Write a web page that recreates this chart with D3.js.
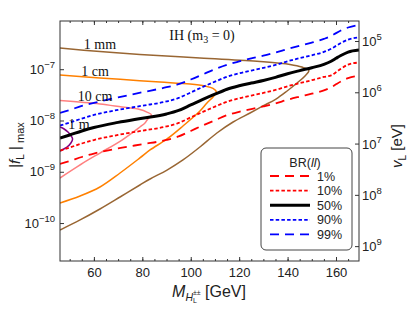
<!DOCTYPE html>
<html>
<head>
<meta charset="utf-8">
<script src="https://d3js.org/d3.v7.min.js"></script>
<style>
body{margin:0;background:#fff;}
text{font-family:"Liberation Sans",Arial,sans-serif;fill:#222;}
.serif{font-family:"Liberation Serif","Times New Roman",serif;}
</style>
</head>
<body>
<script>
// BR(ll) contours in the (M, |f_L|max) plane, IH
var brMass = [46,50,55,60,70,80,90,95,100,105,110,115,120,125,130,135,140,145,150,155,158,160,162,165,169.5];
var br1  = [1.42e-9,1.62e-9,1.94e-9,2.27e-9,2.85e-9,3.45e-9,4.17e-9,4.88e-9,6.25e-9,8.02e-9,1.01e-8,1.27e-8,1.48e-8,1.67e-8,1.88e-8,2.15e-8,2.54e-8,2.92e-8,3.33e-8,3.86e-8,4.45e-8,5.07e-8,5.75e-8,6.72e-8,7.37e-8];
var br10 = [2.59e-9,2.97e-9,3.56e-9,4.16e-9,5.23e-9,6.33e-9,7.64e-9,8.95e-9,1.15e-8,1.47e-8,1.86e-8,2.32e-8,2.71e-8,3.07e-8,3.44e-8,3.94e-8,4.66e-8,5.35e-8,6.10e-8,7.07e-8,7.6e-8,8.7e-8,1.02e-7,1.23e-7,1.35e-7];
var br50 = [4.55e-9,5.21e-9,6.24e-9,7.30e-9,9.18e-9,1.11e-8,1.34e-8,1.57e-8,2.01e-8,2.58e-8,3.26e-8,4.07e-8,4.75e-8,5.38e-8,6.03e-8,6.92e-8,8.17e-8,9.39e-8,1.07e-7,1.24e-7,1.43e-7,1.63e-7,1.85e-7,2.16e-7,2.37e-7];
var br90 = [7.96e-9,9.12e-9,1.09e-8,1.28e-8,1.61e-8,1.94e-8,2.35e-8,2.75e-8,3.52e-8,4.52e-8,5.71e-8,7.12e-8,8.31e-8,9.42e-8,1.06e-7,1.21e-7,1.43e-7,1.64e-7,1.87e-7,2.17e-7,2.50e-7,2.85e-7,3.24e-7,3.78e-7,4.15e-7];
var br99 = [1.40e-8,1.60e-8,1.92e-8,2.20e-8,2.82e-8,3.55e-8,4.45e-8,5.10e-8,6.30e-8,7.92e-8,1.00e-7,1.22e-7,1.42e-7,1.63e-7,1.84e-7,2.12e-7,2.48e-7,2.88e-7,3.30e-7,3.90e-7,4.45e-7,5.05e-7,5.68e-7,6.50e-7,7.28e-7];
var brLabels = ['1%','10%','50%','90%','99%'];

// decay length contours (upper branch -> tip -> lower branch)
var mm1Mass = [46,62.5,79.0,103.8,128.6,141.0,145.9,148.8,147.2,143.9,139.8,135.2,129.8,124.5,117.5,110.8,103.8,96.8,90.2,83.2,79.0,70.8,62.5,54.3,46];
var mm1F = [2.59e-7,2.21e-7,1.94e-7,1.65e-7,1.41e-7,1.24e-7,1.10e-7,9.44e-8,7.37e-8,5.38e-8,3.76e-8,2.62e-8,1.92e-8,1.40e-8,9.34e-9,5.70e-9,3.04e-9,1.70e-9,1.08e-9,7.23e-10,5.52e-10,3.22e-10,1.88e-10,1.15e-10,7.32e-11];
var cm1Mass = [46,62.5,74.9,87.3,99.7,105.9,109.2,110.6,109.2,106.7,103.8,96.8,90.2,83.2,79.0,70.8,62.5,54.3,46];
var cm1F = [7.71e-8,6.74e-8,6.16e-8,5.63e-8,5.15e-8,4.70e-8,4.21e-8,3.59e-8,2.87e-8,2.19e-8,1.53e-8,7.81e-9,4.36e-9,2.66e-9,1.86e-9,9.46e-10,5.05e-10,3.37e-10,2.46e-10];
var cm10Mass = [46,62.5,71.6,79.0,81.9,83.8,82.3,81.1,79.0,71.6,62.5,57.6,46];
var cm10F = [2.45e-8,2.10e-8,1.83e-8,1.64e-8,1.46e-8,1.28e-8,1.07e-8,8.93e-9,7.46e-9,4.16e-9,2.32e-9,1.70e-9,7.56e-10];
var m1Mass = [46,47.7,49.3,50.5,51.2,50.5,48.9,47.2,46];
var m1F = [7.46e-9,6.82e-9,5.96e-9,5.09e-9,4.36e-9,3.64e-9,3.04e-9,2.72e-9,2.54e-9];
var lenLabels = ['1 mm','1 cm','10 cm','1 m'];

var xTicks = [60,80,100,120,140,160];
var xMinor = d3.range(50,170,5);
var fTicks = [1e-10,1e-9,1e-8,1e-7];
var vTicks = [1e5,1e6,1e7,1e8,1e9];

var W = 407, H = 309;
var L = 60, R = 359, T = 21, B = 261;

var svg = d3.select('body').append('svg').attr('width',W).attr('height',H);

var x = d3.scaleLinear().domain([46,169.5]).range([L,R]);
var y = d3.scaleLog().domain([Math.pow(10,-10.74),Math.pow(10,-6.06)]).range([B,T]);
var yv = d3.scaleLog().domain([Math.pow(10,4.61),Math.pow(10,9.29)]).range([T,B]);

svg.append('clipPath').attr('id','clip')
    .append('rect').attr('x',L).attr('y',T).attr('width',R-L).attr('height',B-T);

var plot = svg.append('g').attr('clip-path','url(#clip)');

function pts(xs, ys){ return xs.map(function(d,i){ return [d, ys[i]]; }); }

var contour = d3.line().x(function(d){ return x(d[0]); }).y(function(d){ return y(d[1]); })
    .curve(d3.curveCatmullRom.alpha(0.5));
var brLine = d3.line().x(function(d){ return x(d[0]); }).y(function(d){ return y(d[1]); })
    .curve(d3.curveMonotoneX);

var contours = [
    {d: pts(mm1Mass, mm1F), c: '#996633'},
    {d: pts(cm1Mass, cm1F), c: '#ff8000'},
    {d: pts(cm10Mass, cm10F), c: '#ff8080'},
    {d: pts(m1Mass, m1F), c: '#800080'}
];
contours.forEach(function(k){
    plot.append('path').attr('d', contour(k.d))
        .attr('fill','none').attr('stroke',k.c).attr('stroke-width',1.5);
});

var brStyle = [
    {c:'#ff0000', dash:'9,6', w:1.8},
    {c:'#ff0000', dash:'3.5,2.2', w:1.8},
    {c:'#000000', dash:null, w:3},
    {c:'#0000ff', dash:'3.5,2.2', w:1.8},
    {c:'#0000ff', dash:'9,6', w:1.8}
];
[br1, br10, br50, br90, br99].forEach(function(s,i){
    plot.append('path').attr('d', brLine(pts(brMass, s)))
        .attr('fill','none').attr('stroke',brStyle[i].c)
        .attr('stroke-width',brStyle[i].w)
        .attr('stroke-dasharray',brStyle[i].dash);
});

// length labels
var lenPos = [[100,49],[95,76],[95,101],[79,129]];
svg.selectAll('.len').data(lenLabels).enter().append('text')
    .attr('class','serif').attr('x',function(d,i){ return lenPos[i][0]; })
    .attr('y',function(d,i){ return lenPos[i][1]; })
    .attr('text-anchor','middle').attr('font-size',14).style('fill','#111')
    .text(function(d){ return d; });

// title
var tt = svg.append('text').attr('class','serif').attr('x',202).attr('y',40)
    .attr('text-anchor','middle').attr('font-size',14).style('fill','#111');
tt.append('tspan').text('IH (m');
tt.append('tspan').attr('font-size',10).attr('dy',3).text('3');
tt.append('tspan').attr('dy',-3).text(' = 0)');

// axes
function strip(g){ g.select('.domain').remove(); g.selectAll('line').attr('stroke','#333'); }
svg.append('g').attr('transform','translate(0,'+B+')')
    .call(d3.axisBottom(x).tickValues(xTicks).tickSize(-4).tickPadding(7))
    .call(strip).selectAll('text').attr('font-size',13).style('font-family','Liberation Sans').style('fill','#222');
svg.append('g').attr('transform','translate(0,'+B+')')
    .call(d3.axisBottom(x).tickValues(xMinor).tickSize(-2).tickFormat('')).call(strip);
svg.append('g').attr('transform','translate(0,'+T+')')
    .call(d3.axisTop(x).tickValues(xTicks).tickSize(-4).tickFormat('')).call(strip);
svg.append('g').attr('transform','translate(0,'+T+')')
    .call(d3.axisTop(x).tickValues(xMinor).tickSize(-2).tickFormat('')).call(strip);
svg.append('g').attr('transform','translate('+L+',0)')
    .call(d3.axisLeft(y).tickValues(fTicks).tickSize(-4).tickFormat('')).call(strip);
svg.append('g').attr('transform','translate('+R+',0)')
    .call(d3.axisRight(yv).tickValues(vTicks).tickSize(-4).tickFormat('')).call(strip);

svg.append('rect').attr('x',L).attr('y',T).attr('width',R-L).attr('height',B-T)
    .attr('fill','none').attr('stroke','#333').attr('stroke-width',1);

var fl = svg.selectAll('.fl').data(fTicks).enter().append('text')
    .attr('x',L-5).attr('y',function(d){ return y(d)+4.5; })
    .attr('text-anchor','end').attr('font-size',13);
fl.append('tspan').text('10');
fl.append('tspan').attr('font-size',9.5).attr('dy',-6)
    .text(function(d){ return '\u2212' + Math.round(-Math.log10(d)); });

var vl = svg.selectAll('.vl').data(vTicks).enter().append('text')
    .attr('x',R+3).attr('y',function(d){ return yv(d)+5; })
    .attr('font-size',13);
vl.append('tspan').text('10');
vl.append('tspan').attr('font-size',9.5).attr('dy',-6)
    .text(function(d){ return Math.round(Math.log10(d)); });

// axis titles
var xt = svg.append('text').attr('x',209).attr('y',297).attr('text-anchor','middle').attr('font-size',16);
xt.append('tspan').attr('font-style','italic').text('M');
xt.append('tspan').attr('font-style','italic').attr('font-size',10.5).attr('dy',4).text('H');
xt.append('tspan').attr('font-size',7).attr('dy',2).text('L');
xt.append('tspan').attr('font-size',7).attr('dx',-4).attr('dy',-8).text('\u00b1\u00b1');
xt.append('tspan').attr('dy',2).text(' [GeV]');

var yt = svg.append('text').attr('transform','translate(20,145) rotate(-90)')
    .attr('text-anchor','middle').attr('font-size',15);
yt.append('tspan').text('|');
yt.append('tspan').attr('font-style','italic').text('f');
yt.append('tspan').attr('font-size',10).attr('dy',4).text('L');
yt.append('tspan').attr('dy',-4).text(' |');
yt.append('tspan').attr('font-size',11).attr('dy',4).text(' max');

var vt = svg.append('text').attr('transform','translate(402,146) rotate(-90)')
    .attr('text-anchor','middle').attr('font-size',15);
vt.append('tspan').attr('font-style','italic').text('v');
vt.append('tspan').attr('font-size',10).attr('dy',4).text('L');
vt.append('tspan').attr('dy',-4).text(' [eV]');

// legend
var lg = svg.append('g');
lg.append('rect').attr('x',261).attr('y',148).attr('width',91).attr('height',102)
    .attr('rx',5).attr('fill','#fff').attr('stroke','#444').attr('stroke-width',1);
var lt = lg.append('text').attr('x',305).attr('y',166.5).attr('text-anchor','middle').attr('font-size',12.5);
lt.append('tspan').text('BR(');
lt.append('tspan').attr('font-style','italic').text('ll');
lt.append('tspan').text(')');
brLabels.forEach(function(lab,i){
    var yy = 176 + i*14.6;
    lg.append('line').attr('x1',270).attr('x2',310).attr('y1',yy).attr('y2',yy)
        .attr('stroke',brStyle[i].c).attr('stroke-width',brStyle[i].w)
        .attr('stroke-dasharray',brStyle[i].dash);
    lg.append('text').attr('x',317).attr('y',yy+4.5).attr('font-size',12.5).text(lab);
});
</script>
</body>
</html>
